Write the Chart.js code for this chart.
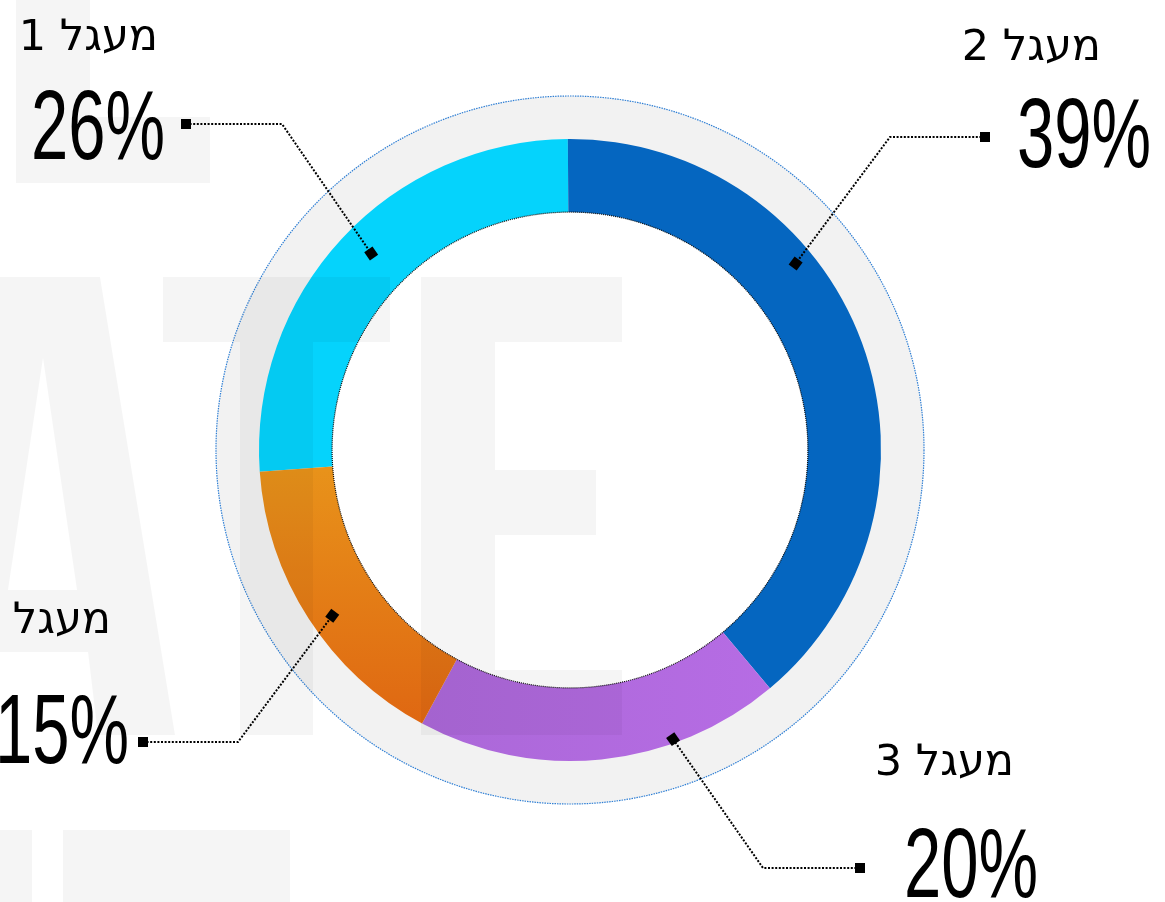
<!DOCTYPE html>
<html>
<head>
<meta charset="utf-8">
<script src="https://cdn.jsdelivr.net/npm/chart.js@4.4.1/dist/chart.umd.min.js"></script>
<style>
  html, body { margin: 0; padding: 0; background: #ffffff; overflow: hidden; }
  #wrap { position: absolute; left: 0; top: 0; width: 1165px; height: 902px; }
</style>
</head>
<body>
<div id="wrap"><canvas id="c" width="1165" height="902"></canvas></div>
<script>
// ---------- DATA ----------
const categories = ['מעגל 1', 'מעגל 2', 'מעגל 3', 'מעגל 4'];
// slice sizes as drawn in the picture (share of the ring)
const shares = [26, 39, 19, 16];
// percentages printed next to each slice
const shownPercents = [26, 39, 20, 15];
const valueSuffix = '%';

// ---------- STYLES / LAYOUT ----------
const sliceColors = ['#05d3fc', '#0566c0', null, null]; // 3 & 4 use gradients
const HEB_FONT = '43px "DejaVu Sans", sans-serif';
const PCT_FONT = '99px "Liberation Sans Narrow", "Liberation Sans", sans-serif';
const PCT_REF_TEXT_WIDTH = 134; // target drawn width of "26%" for condensing

// label layout: name right edge/baseline, percent right edge/baseline, end square, elbow,
// and where on the slice the leader ends (fraction of angle, fraction of ring thickness)
const labelLayout = [
  { name: [158, 50],  pct: [165, 159], sq: [186, 124], elbow: [282, 124], fa: 0.52, fr: 0.57 },
  { name: [1101, 60], pct: [1151, 167], sq: [985, 137], elbow: [890, 137], fa: 0.362, fr: 0.75 },
  { name: [1014, 775], pct: [1038, 897], sq: [860, 868], elbow: [763, 868], fa: 0.298, fr: 0.945 },
  { name: [111, 633], pct: [129, 763], sq: [143, 742], elbow: [238, 742], fa: 0.464, fr: 0.71 }
];

const total = shares.reduce((a, b) => a + b, 0);

function bgColor(ctx) {
  const i = ctx.dataIndex;
  const c = ctx.chart.ctx;
  if (i === 2) {
    const g = c.createLinearGradient(420, 0, 770, 0);
    g.addColorStop(0, '#ab68d8');
    g.addColorStop(1, '#b66ce4');
    return g;
  }
  if (i === 3) {
    const g = c.createLinearGradient(0, 470, 0, 725);
    g.addColorStop(0, '#e8921a');
    g.addColorStop(1, '#df6712');
    return g;
  }
  return sliceColors[i];
}

const decorPlugin = {
  id: 'decor',
  beforeDatasetsDraw(chart) {
    const meta = chart.getDatasetMeta(0);
    const a = meta.data[0];
    if (!a) return;
    const ctx = chart.ctx;
    const cx = a.x, cy = a.y;
    const rOut = a.outerRadius + 43;
    ctx.save();
    ctx.beginPath();
    ctx.arc(cx, cy, rOut, 0, Math.PI * 2);
    ctx.arc(cx, cy, a.innerRadius, 0, Math.PI * 2, true);
    ctx.fillStyle = '#f2f2f2';
    ctx.fill('evenodd');
    ctx.beginPath();
    ctx.arc(cx, cy, rOut, 0, Math.PI * 2);
    ctx.setLineDash([1.5, 1]);
    ctx.lineWidth = 1.2;
    ctx.strokeStyle = '#2f7fd4';
    ctx.stroke();
    ctx.restore();
  },
  afterDatasetsDraw(chart) {
    const meta = chart.getDatasetMeta(0);
    const a0 = meta.data[0];
    if (!a0) return;
    const ctx = chart.ctx;
    const cx = a0.x, cy = a0.y;
    ctx.save();
    // inner dotted black circle
    ctx.beginPath();
    ctx.arc(cx, cy, a0.innerRadius, 0, Math.PI * 2);
    ctx.setLineDash([1, 1]);
    ctx.lineWidth = 1.2;
    ctx.strokeStyle = '#111';
    ctx.stroke();
    ctx.setLineDash([]);

    // faint background watermark letters (overlay)
    ctx.fillStyle = 'rgba(0,0,0,0.04)';
    const poly = (pts) => { ctx.moveTo(pts[0][0], pts[0][1]); for (let k = 1; k < pts.length; k++) ctx.lineTo(pts[k][0], pts[k][1]); ctx.closePath(); };
    ctx.beginPath();
    poly([[-14, 277], [100, 277], [175, 735], [98, 735], [88, 652], [-1, 652], [-13, 735], [-89, 735]]);
    poly([[43, 358], [8, 590], [77, 590]]);
    ctx.fill('evenodd');
    ctx.beginPath();
    ctx.rect(163, 277, 227, 65);
    ctx.rect(240, 342, 73, 393);
    ctx.rect(421, 277, 201, 65);
    ctx.rect(421, 342, 74, 328);
    ctx.rect(495, 470, 101, 65);
    ctx.rect(421, 670, 201, 65);
    ctx.rect(16, 0, 74, 183);
    ctx.rect(90, 117, 120, 66);
    ctx.rect(0, 830, 32, 72);
    ctx.rect(63, 830, 227, 72);
    ctx.fill();

    // condensing factor for the big percentages
    ctx.font = PCT_FONT;
    const refW = ctx.measureText(shownPercents[0] + valueSuffix).width;
    const sx = PCT_REF_TEXT_WIDTH / refW;

    meta.data.forEach((arc, i) => {
      const L = labelLayout[i];
      const ang = arc.startAngle + L.fa * (arc.endAngle - arc.startAngle);
      const r = arc.innerRadius + L.fr * (arc.outerRadius - arc.innerRadius);
      const ax = arc.x + r * Math.cos(ang);
      const ay = arc.y + r * Math.sin(ang);
      ctx.beginPath();
      ctx.moveTo(L.sq[0], L.sq[1]);
      ctx.lineTo(L.elbow[0], L.elbow[1]);
      ctx.lineTo(ax, ay);
      ctx.setLineDash([2, 1.6]);
      ctx.lineWidth = 2;
      ctx.strokeStyle = '#000';
      ctx.stroke();
      ctx.setLineDash([]);
      ctx.fillStyle = '#000';
      ctx.fillRect(L.sq[0] - 5, L.sq[1] - 5, 10, 10);
      const t = Math.atan2(ay - L.elbow[1], ax - L.elbow[0]);
      ctx.save();
      ctx.translate(ax, ay);
      ctx.rotate(t);
      ctx.fillRect(-5, -5, 10, 10);
      ctx.restore();
      // name
      ctx.font = HEB_FONT;
      ctx.textAlign = 'right';
      ctx.textBaseline = 'alphabetic';
      ctx.direction = 'rtl';
      ctx.fillText(categories[i], L.name[0], L.name[1]);
      ctx.direction = 'ltr';
      // percent
      ctx.save();
      ctx.translate(L.pct[0], L.pct[1]);
      ctx.scale(sx, 1);
      ctx.font = PCT_FONT;
      ctx.textAlign = 'right';
      ctx.fillText(shownPercents[i] + valueSuffix, 0, 0);
      ctx.restore();
    });
    ctx.restore();
  }
};

new Chart(document.getElementById('c'), {
  type: 'doughnut',
  data: {
    labels: categories,
    datasets: [{
      data: shares,
      backgroundColor: bgColor,
      borderWidth: 0,
      hoverOffset: 0
    }]
  },
  options: {
    responsive: false,
    animation: false,
    cutout: '76.5%',
    rotation: -shares[0] / total * 360 - 0.4,
    layout: { padding: { left: 259, right: 284, top: 139, bottom: 141 } },
    plugins: {
      legend: { display: false },
      tooltip: { enabled: false }
    },
    events: []
  },
  plugins: [decorPlugin]
});
</script>
</body>
</html>
